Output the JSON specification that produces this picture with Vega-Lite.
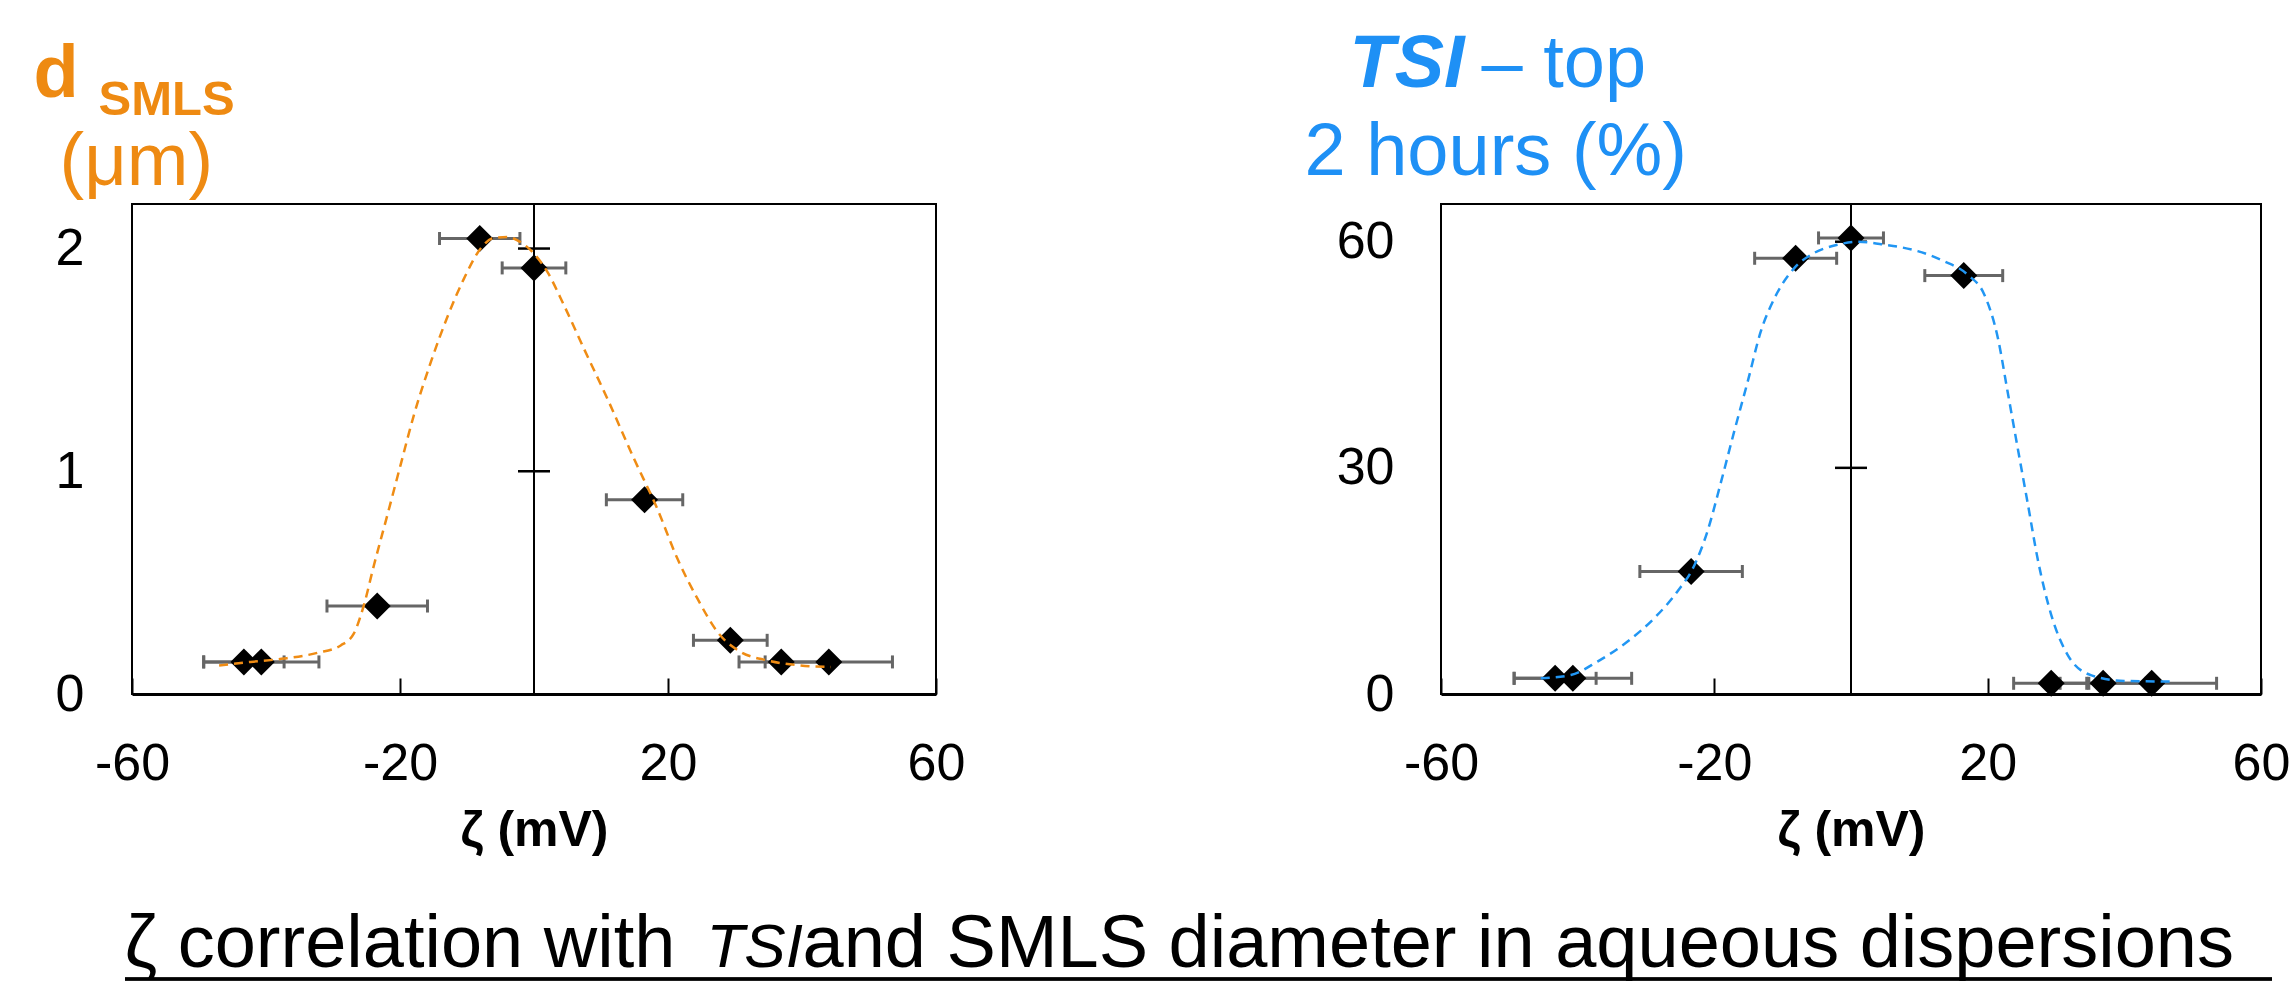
{
  "$schema": "https://vega.github.io/schema/vega-lite/v6.json",
  "background": "white",
  "padding": {"left": 32, "top": 26, "right": 0, "bottom": 0},
  "config": {
    "font": "Liberation Sans",
    "view": {"stroke": "black", "strokeWidth": 2},
    "axis": {"grid": false, "labelColor": "black", "titleColor": "black"}
  },
  "datasets": {
    "pts": [
      {"zeta": -43.3, "err": 6.0, "d": 0.144, "tsi": 2.08},
      {"zeta": -40.7, "err": 8.6, "d": 0.144, "tsi": 2.08},
      {"zeta": -23.4, "err": 7.5, "d": 0.395, "tsi": 16.25},
      {"zeta": -8.1, "err": 6.0, "d": 2.045, "tsi": 57.8},
      {"zeta": 0.0, "err": 4.75, "d": 1.913, "tsi": 60.5},
      {"zeta": 16.5, "err": 5.7, "d": 0.872, "tsi": 55.5},
      {"zeta": 29.3, "err": 5.5, "d": 0.241, "tsi": 1.42},
      {"zeta": 36.9, "err": 6.3, "d": 0.144, "tsi": 1.42},
      {"zeta": 44.0, "err": 9.5, "d": 0.144, "tsi": 1.42}
    ],
    "fitL": [
      {"zeta": -47.0, "d": 0.128}, {"zeta": -42.3, "d": 0.144}, {"zeta": -37.3, "d": 0.159},
      {"zeta": -32.3, "d": 0.185}, {"zeta": -28.85, "d": 0.218}, {"zeta": -26.9, "d": 0.271},
      {"zeta": -25.4, "d": 0.398}, {"zeta": -23.9, "d": 0.577}, {"zeta": -21.9, "d": 0.802},
      {"zeta": -19.9, "d": 1.03}, {"zeta": -17.9, "d": 1.255}, {"zeta": -15.4, "d": 1.49},
      {"zeta": -12.9, "d": 1.695}, {"zeta": -10.45, "d": 1.865}, {"zeta": -7.96, "d": 2.0},
      {"zeta": -5.97, "d": 2.048}, {"zeta": -3.97, "d": 2.052}, {"zeta": -2.48, "d": 2.037},
      {"zeta": 0.0, "d": 1.977}, {"zeta": 2.0, "d": 1.895}, {"zeta": 4.48, "d": 1.745},
      {"zeta": 7.46, "d": 1.55}, {"zeta": 10.95, "d": 1.326}, {"zeta": 14.93, "d": 1.056},
      {"zeta": 18.4, "d": 0.832}, {"zeta": 21.4, "d": 0.608}, {"zeta": 24.4, "d": 0.428},
      {"zeta": 27.4, "d": 0.278}, {"zeta": 30.85, "d": 0.189}, {"zeta": 34.8, "d": 0.151},
      {"zeta": 39.8, "d": 0.128}, {"zeta": 44.3, "d": 0.121}
    ],
    "fitR": [
      {"zeta": -45.4, "tsi": 2.08}, {"zeta": -41.0, "tsi": 2.52}, {"zeta": -37.1, "tsi": 4.3},
      {"zeta": -32.7, "tsi": 6.96}, {"zeta": -28.8, "tsi": 10.05}, {"zeta": -25.4, "tsi": 13.6},
      {"zeta": -22.9, "tsi": 17.1}, {"zeta": -21.0, "tsi": 21.6}, {"zeta": -19.0, "tsi": 28.2},
      {"zeta": -17.1, "tsi": 34.8}, {"zeta": -15.1, "tsi": 41.5}, {"zeta": -13.2, "tsi": 48.1},
      {"zeta": -11.2, "tsi": 52.5}, {"zeta": -8.3, "tsi": 56.5}, {"zeta": -5.4, "tsi": 58.5},
      {"zeta": -1.95, "tsi": 59.6}, {"zeta": 0.98, "tsi": 60.0}, {"zeta": 4.9, "tsi": 59.6},
      {"zeta": 9.76, "tsi": 58.75}, {"zeta": 13.65, "tsi": 57.4}, {"zeta": 17.1, "tsi": 55.6},
      {"zeta": 19.5, "tsi": 53.0}, {"zeta": 21.5, "tsi": 47.2}, {"zeta": 22.9, "tsi": 40.2},
      {"zeta": 24.4, "tsi": 32.6}, {"zeta": 25.9, "tsi": 25.1}, {"zeta": 27.3, "tsi": 18.0},
      {"zeta": 29.3, "tsi": 10.5}, {"zeta": 31.7, "tsi": 5.2}, {"zeta": 35.1, "tsi": 2.5},
      {"zeta": 40.0, "tsi": 1.73}, {"zeta": 47.3, "tsi": 1.65}
    ],
    "zero": [{"zeta": 0}],
    "ticksL": [{"zeta": 0, "d": 1}, {"zeta": 0, "d": 2}],
    "ticksR": [{"zeta": 0, "tsi": 30}, {"zeta": 0, "tsi": 60}],
    "under": [{"u0": 0, "u1": 1, "v": 0}]
  },
  "spacing": 51,
  "vconcat": [
    {
      "bounds": "flush",
      "spacing": 505,
      "hconcat": [
        {
          "width": 804,
          "height": 490,
          "encoding": {
            "x": {
              "field": "zeta", "type": "quantitative",
              "scale": {"domain": [-60, 60], "nice": false, "zero": false},
              "axis": {
                "values": [-60, -20, 20, 60], "labelExpr": "'' + datum.value", "labelFontSize": 52, "labelFlush": false, "labelOverlap": false,
                "labelPadding": 60, "tickSize": -16, "tickWidth": 2, "tickColor": "black",
                "domain": true, "domainColor": "black", "domainWidth": 3, "grid": false,
                "title": "ζ (mV)", "titleFontSize": 50, "titleFontWeight": "bold",
                "titleBaseline": "alphabetic", "titleY": 151
              }
            }
          },
          "layer": [
            {"data": {"name": "zero"}, "mark": {"type": "rule", "color": "black", "strokeWidth": 2}},
            {
              "data": {"name": "ticksL"},
              "mark": {"type": "tick", "orient": "horizontal", "size": 32, "thickness": 2.5, "color": "black", "opacity": 1},
              "encoding": {
                "y": {
                  "field": "d", "type": "quantitative", "scale": {"domain": [0, 2.2], "nice": false, "zero": false},
                  "axis": {"orient": "left", "labels": false, "ticks": false, "domain": false, "grid": false,
                    "title": "SMLS", "titleFontSize": 49, "titleFontWeight": "bold", "titleColor": "#EE8A12",
                    "titleAngle": 0, "titleAlign": "left", "titleBaseline": "alphabetic", "titleX": -34, "titleY": -90}
                }
              }
            },
            {
              "data": {"name": "pts"},
              "mark": {"type": "errorbar", "color": "#666666", "thickness": 3, "size": 13, "opacity": 1,
                "rule": {"strokeWidth": 3, "color": "#666666", "opacity": 1},
                "ticks": {"thickness": 3, "size": 13, "color": "#666666", "opacity": 1}},
              "encoding": {
                "xError": {"field": "err"},
                "y": {"field": "d", "type": "quantitative", "scale": {"domain": [0, 2.2], "nice": false, "zero": false}, "axis": null}
              }
            },
            {
              "data": {"name": "pts"},
              "mark": {"type": "point", "shape": "diamond", "filled": true, "color": "black", "size": 729, "opacity": 1},
              "encoding": {
                "y": {
                  "field": "d", "type": "quantitative", "scale": {"domain": [0, 2.2], "nice": false, "zero": false},
                  "axis": {"orient": "left", "values": [0, 1, 2], "labelFontSize": 52, "labelPadding": 48,
                    "ticks": false, "tickSize": 0, "domain": false, "grid": false,
                    "title": "(μm)", "titleFontSize": 74, "titleFontWeight": "normal", "titleColor": "#EE8A12",
                    "titleAngle": 0, "titleAlign": "left", "titleBaseline": "alphabetic", "titleX": -73, "titleY": -20}
                }
              }
            },
            {
              "data": {"name": "fitL"},
              "mark": {"type": "line", "interpolate": "monotone", "color": "#EF8C14", "strokeWidth": 2.5, "strokeDash": [9, 6]},
              "encoding": {
                "y": {
                  "field": "d", "type": "quantitative", "scale": {"domain": [0, 2.2], "nice": false, "zero": false},
                  "axis": {"orient": "left", "labels": false, "ticks": false, "domain": false, "grid": false,
                    "title": "d", "titleFontSize": 74, "titleFontWeight": "bold", "titleColor": "#EE8A12",
                    "titleAngle": 0, "titleAlign": "left", "titleBaseline": "alphabetic", "titleX": -99, "titleY": -108}
                }
              }
            }
          ],
          "resolve": {"axis": {"y": "independent"}}
        },
        {
          "width": 820,
          "height": 490,
          "encoding": {
            "x": {
              "field": "zeta", "type": "quantitative",
              "scale": {"domain": [-60, 60], "nice": false, "zero": false},
              "axis": {
                "values": [-60, -20, 20, 60], "labelExpr": "'' + datum.value", "labelFontSize": 52, "labelFlush": false, "labelOverlap": false,
                "labelPadding": 60, "tickSize": -16, "tickWidth": 2, "tickColor": "black",
                "domain": true, "domainColor": "black", "domainWidth": 3, "grid": false,
                "title": "ζ (mV)", "titleFontSize": 50, "titleFontWeight": "bold",
                "titleBaseline": "alphabetic", "titleY": 151
              }
            }
          },
          "layer": [
            {"data": {"name": "zero"}, "mark": {"type": "rule", "color": "black", "strokeWidth": 2}},
            {
              "data": {"name": "ticksR"},
              "mark": {"type": "tick", "orient": "horizontal", "size": 32, "thickness": 2.5, "color": "black", "opacity": 1},
              "encoding": {
                "y": {
                  "field": "tsi", "type": "quantitative", "scale": {"domain": [0, 65], "nice": false, "zero": false},
                  "axis": {"orient": "left", "labels": false, "ticks": false, "domain": false, "grid": false,
                    "title": "– top", "titleFontSize": 74, "titleFontWeight": "normal", "titleColor": "#1E90F5",
                    "titleAngle": 0, "titleAlign": "left", "titleBaseline": "alphabetic", "titleX": 40, "titleY": -118}
                }
              }
            },
            {
              "data": {"name": "pts"},
              "mark": {"type": "errorbar", "color": "#666666", "thickness": 3, "size": 13, "opacity": 1,
                "rule": {"strokeWidth": 3, "color": "#666666", "opacity": 1},
                "ticks": {"thickness": 3, "size": 13, "color": "#666666", "opacity": 1}},
              "encoding": {
                "xError": {"field": "err"},
                "y": {"field": "tsi", "type": "quantitative", "scale": {"domain": [0, 65], "nice": false, "zero": false}, "axis": null}
              }
            },
            {
              "data": {"name": "pts"},
              "mark": {"type": "point", "shape": "diamond", "filled": true, "color": "black", "size": 729, "opacity": 1},
              "encoding": {
                "y": {
                  "field": "tsi", "type": "quantitative", "scale": {"domain": [0, 65], "nice": false, "zero": false},
                  "axis": {"orient": "left", "values": [0, 30, 60], "labelFontSize": 52, "labelPadding": 47,
                    "ticks": false, "tickSize": 0, "domain": false, "grid": false,
                    "title": "2 hours (%)", "titleFontSize": 74, "titleFontWeight": "normal", "titleColor": "#1E90F5",
                    "titleAngle": 0, "titleAlign": "left", "titleBaseline": "alphabetic", "titleX": -137, "titleY": -30}
                }
              }
            },
            {
              "data": {"name": "fitR"},
              "mark": {"type": "line", "interpolate": "monotone", "color": "#2196F3", "strokeWidth": 2.5, "strokeDash": [9, 6]},
              "encoding": {
                "y": {
                  "field": "tsi", "type": "quantitative", "scale": {"domain": [0, 65], "nice": false, "zero": false},
                  "axis": {"orient": "left", "labels": false, "ticks": false, "domain": false, "grid": false,
                    "title": "TSI", "titleFontSize": 74, "titleFontWeight": "bold", "titleFontStyle": "italic", "titleColor": "#1E90F5",
                    "titleAngle": 0, "titleAlign": "left", "titleBaseline": "alphabetic", "titleX": -92, "titleY": -118}
                }
              }
            }
          ],
          "resolve": {"axis": {"y": "independent"}}
        }
      ]
    },
    {
      "width": 2140,
      "height": 2,
      "view": {"stroke": null},
      "data": {"name": "under"},
      "layer": [
        {
          "mark": {"type": "rule", "color": "black", "strokeWidth": 3},
          "encoding": {
            "x": {
              "field": "u0", "type": "quantitative", "scale": {"domain": [0, 1], "range": [-7, 2140], "nice": false, "zero": false},
              "axis": {"orient": "bottom", "labels": false, "ticks": false, "domain": false, "grid": false,
                "title": "ζ correlation with", "titleFontSize": 74, "titleFontWeight": "normal", "titleColor": "black",
                "titleAlign": "left", "titleBaseline": "alphabetic", "titleX": -8, "titleY": -13}
            },
            "x2": {"field": "u1"},
            "y": {"field": "v", "type": "quantitative", "scale": {"domain": [0, 1], "nice": false}, "axis": null}
          }
        },
        {
          "mark": {"type": "rule", "color": "black", "strokeWidth": 3},
          "encoding": {
            "x": {
              "field": "u0", "type": "quantitative", "scale": {"domain": [0, 1], "range": [-7, 2140], "nice": false, "zero": false},
              "axis": {"orient": "bottom", "labels": false, "ticks": false, "domain": false, "grid": false,
                "title": "TSI", "titleFontSize": 62, "titleFontWeight": "normal", "titleFontStyle": "italic", "titleColor": "black",
                "titleAlign": "left", "titleBaseline": "alphabetic", "titleX": 574, "titleY": -13}
            },
            "x2": {"field": "u1"},
            "y": {"field": "v", "type": "quantitative", "scale": {"domain": [0, 1], "nice": false}, "axis": null}
          }
        },
        {
          "mark": {"type": "rule", "color": "black", "strokeWidth": 3},
          "encoding": {
            "x": {
              "field": "u0", "type": "quantitative", "scale": {"domain": [0, 1], "range": [-7, 2140], "nice": false, "zero": false},
              "axis": {"orient": "bottom", "labels": false, "ticks": false, "domain": false, "grid": false,
                "title": "and SMLS diameter in aqueous dispersions", "titleFontSize": 74, "titleFontWeight": "normal", "titleColor": "black",
                "titleAlign": "left", "titleBaseline": "alphabetic", "titleX": 670, "titleY": -13}
            },
            "x2": {"field": "u1"},
            "y": {"field": "v", "type": "quantitative", "scale": {"domain": [0, 1], "nice": false}, "axis": null}
          }
        }
      ],
      "resolve": {"axis": {"x": "independent"}}
    }
  ]
}
